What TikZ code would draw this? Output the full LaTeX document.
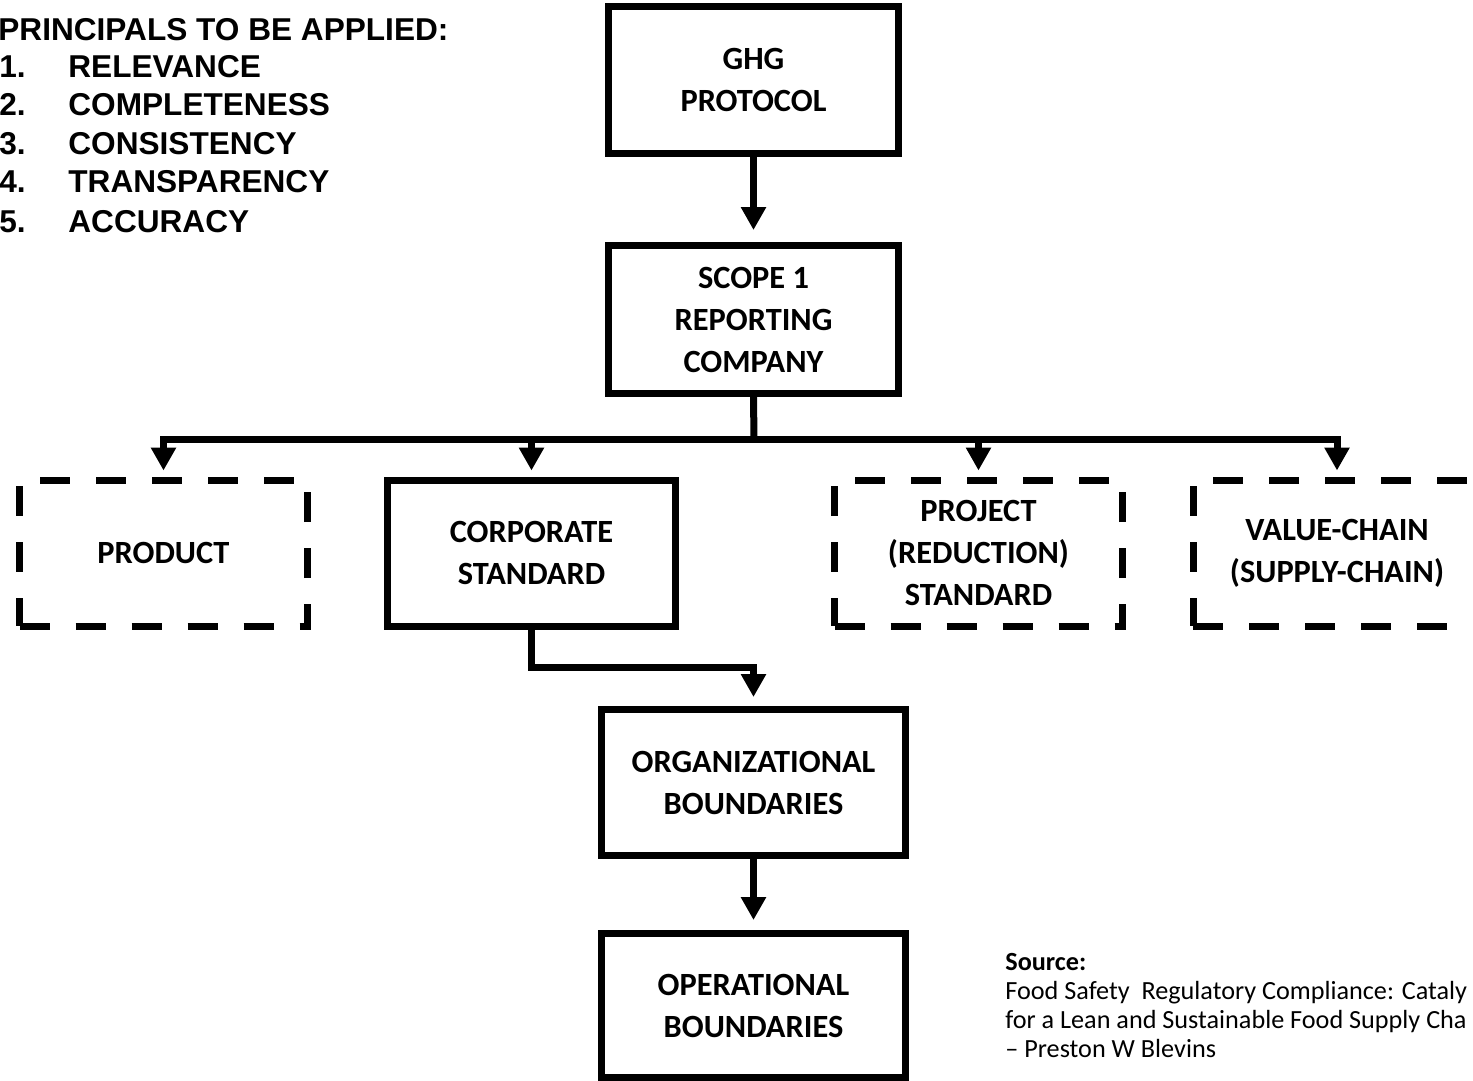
\documentclass[tikz,border=0pt]{standalone}
\usepackage{fontspec}
\setmainfont{Carlito}
\newfontfamily\arialfont{Liberation Sans}
\usetikzlibrary{arrows.meta}
\tikzset{
  sbox/.style={draw, line width=3.5pt, align=center, inner sep=0pt,
    minimum width=144pt, minimum height=73pt,
    font=\bfseries\fontsize{16.2}{21}\selectfont},
  dbox/.style={sbox, dash pattern=on 15pt off 13pt},
  conn/.style={line width=3.5pt},
  arr/.style={line width=3.5pt, -{Triangle[width=12pt,length=11.5pt]}, shorten >=5pt},
  plabel/.style={anchor=base west, inner sep=0pt, font=\arialfont\bfseries\fontsize{15.8}{19}\selectfont},
  srclabel/.style={anchor=base west, inner sep=0pt, font=\fontsize{13.1}{15}\selectfont}
}
\begin{document}
\begin{tikzpicture}[x=0.5pt,y=-0.5pt]
\useasboundingbox (0,0) rectangle (1473,1081);
\clip (0,0) rectangle (1473,1081);
\fill[white] (0,0) rectangle (1473,1081);

% principles
\node[plabel] (ph) at (-2,41) {PRINCIPALS TO BE APPLIED:};
\node[plabel] (pn1) at (-1,78) {1.};
\node[plabel] (pt1) at (68,78) {RELEVANCE};
\node[plabel] (pn2) at (-1,116) {2.};
\node[plabel] (pt2) at (68,116) {COMPLETENESS};
\node[plabel] (pn3) at (-1,155) {3.};
\node[plabel] (pt3) at (68,155) {CONSISTENCY};
\node[plabel] (pn4) at (-1,192) {4.};
\node[plabel] (pt4) at (68,192) {TRANSPARENCY};
\node[plabel] (pn5) at (-1,232) {5.};
\node[plabel] (pt5) at (68,232) {ACCURACY};

% boxes
\node[sbox, minimum width=145pt, minimum height=73.5pt] (ghg) at (753.5,80) {GHG\\PROTOCOL};
\node[sbox, minimum width=145pt, minimum height=74pt] (scope) at (753.5,319.5) {SCOPE 1\\REPORTING\\COMPANY};
\node[dbox] (product) at (163.5,553) {PRODUCT};
\node[sbox] (corp) at (531.5,553) {CORPORATE\\STANDARD};
\node[dbox] (project) at (978.5,553) {PROJECT\\(REDUCTION)\\STANDARD};
\node[dbox] (value) at (1337,553) {VALUE-CHAIN\\(SUPPLY-CHAIN)};
\node[sbox, minimum width=152pt, minimum height=73pt] (org) at (753.5,782.5) {ORGANIZATIONAL\\BOUNDARIES};
\node[sbox, minimum width=152pt, minimum height=72pt] (oper) at (753.5,1005.5) {OPERATIONAL\\BOUNDARIES};

% connectors
\coordinate (bus) at (754,439);
\coordinate (cj) at (753.5,667);
\draw[arr, shorten >=6pt] (ghg.south) -- (scope.north);
\draw[conn] (scope.south) -- (bus);
\draw[arr, shorten >=3pt] (bus) -| (product.north);
\draw[arr, shorten >=3pt] (bus) -| (corp.north);
\draw[arr, shorten >=3pt] (bus) -| (project.north);
\draw[arr, shorten >=3pt] (bus) -| (value.north);
\draw[arr, shorten >=4.5pt] (corp.south) |- (cj) -- (org.north);
\draw[arr] (org.south) -- (oper.north);

% source
\node[srclabel] (src1) at (1005,970) {\textbf{Source:}};
\node[srclabel] (src2) at (1005,999) {Food Safety\ \ Regulatory Compliance: Cataly};
\node[srclabel] (src3) at (1005,1028) {for a Lean and Sustainable Food Supply Cha};
\node[srclabel] (src4) at (1005,1057) {– Preston W Blevins};
\end{tikzpicture}
\end{document}
